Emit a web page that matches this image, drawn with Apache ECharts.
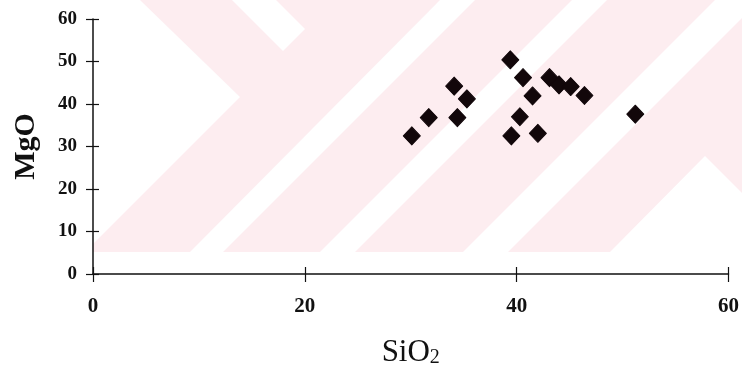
<!DOCTYPE html>
<html>
<head>
<meta charset="utf-8">
<script src="https://cdn.jsdelivr.net/npm/echarts@6/dist/echarts.min.js"></script>
<style>
  html, body { margin: 0; padding: 0; background: #ffffff; }
  #chart { width: 742px; height: 374px; }
</style>
</head>
<body>
<div id="chart"></div>
<script>
// Sample compositions (wt %)
const sio2 = [30.1, 31.7, 34.1, 34.4, 35.3, 39.4, 39.5, 40.3, 40.6, 41.5, 42.0, 43.1, 44.0, 45.1, 46.4, 51.2];
const mgo  = [32.5, 36.8, 44.2, 36.8, 41.2, 50.4, 32.5, 37.0, 46.2, 41.9, 33.1, 46.2, 44.5, 44.1, 42.0, 37.6];

const xTicks = [0, 20, 40, 60];
const yTicks = [0, 10, 20, 30, 40, 50, 60];

const points = sio2.map((v, i) => [v, mgo[i]]);

const serif = '"Liberation Serif", "Times New Roman", serif';
const ink = '#111111';
const pink = '#fdedf0';

// Background stamp: pink field crossed by white diagonal bands
const stamp = [
  { type: 'rect', shape: { x: 93, y: 0, width: 649, height: 252 }, style: { fill: pink } },
  { type: 'polygon', shape: { points: [[93, 0], [140, 0], [240, 97], [93, 244]] }, style: { fill: '#fff' } },
  { type: 'polygon', shape: { points: [[232, 0], [276, 0], [305, 29], [283, 51]] }, style: { fill: '#fff' } },
  { type: 'polygon', shape: { points: [[190, 252], [223, 252], [475, 0], [440, 0]] }, style: { fill: '#fff' } },
  { type: 'polygon', shape: { points: [[320, 252], [355, 252], [607, 0], [572, 0]] }, style: { fill: '#fff' } },
  { type: 'polygon', shape: { points: [[463, 252], [508, 252], [760, 0], [715, 0]] }, style: { fill: '#fff' } },
  { type: 'polygon', shape: { points: [[610, 252], [705, 156], [801, 252]] }, style: { fill: '#fff' } }
].map(e => Object.assign(e, { z: -10, silent: true }));

const chart = echarts.init(document.getElementById('chart'), null, { renderer: 'canvas' });

const axisBase = {
  type: 'value',
  min: 0,
  max: 60,
  splitLine: { show: false },
  axisLine: { show: true, onZero: false, lineStyle: { color: ink, width: 1.5 } }
};

chart.setOption({
  backgroundColor: '#ffffff',
  animation: false,
  graphic: { elements: stamp },
  grid: { left: 93, right: 13, top: 19, bottom: 100, containLabel: false },
  xAxis: [
    Object.assign({}, axisBase, {
      position: 'bottom',
      interval: 20,
      name: '{a|SiO}{b|2}',
      nameLocation: 'middle',
      nameGap: 63,
      nameTextStyle: {
        rich: {
          a: { fontFamily: serif, fontSize: 31, color: ink },
          b: { fontFamily: serif, fontSize: 20, color: ink, verticalAlign: 'bottom', padding: [9, 0, 0, 0] }
        }
      },
      axisTick: { show: true, inside: false, length: 8, lineStyle: { color: ink, width: 1.2 } },
      axisLabel: {
        margin: 22,
        fontFamily: serif, fontWeight: 'bold', fontSize: 21, color: ink,
        formatter: v => (xTicks.includes(v) ? String(v) : '')
      }
    }),
    Object.assign({}, axisBase, {
      position: 'bottom',
      interval: 20,
      axisLine: { show: false },
      axisTick: { show: true, inside: true, length: 7, lineStyle: { color: ink, width: 1.2 } },
      axisLabel: { show: false }
    })
  ],
  yAxis: [
    Object.assign({}, axisBase, {
      position: 'left',
      interval: 10,
      name: 'MgO',
      nameLocation: 'middle',
      nameGap: 52,
      nameRotate: 90,
      nameTextStyle: { fontFamily: serif, fontWeight: 'bold', fontSize: 30, color: ink },
      axisTick: { show: true, inside: false, length: 7, lineStyle: { color: ink, width: 1.2 } },
      axisLabel: {
        margin: 16,
        fontFamily: serif, fontWeight: 'bold', fontSize: 19, color: ink,
        formatter: v => (yTicks.includes(v) ? String(v) : '')
      }
    }),
    Object.assign({}, axisBase, {
      position: 'left',
      interval: 10,
      axisLine: { show: false },
      axisTick: { show: true, inside: true, length: 6, lineStyle: { color: ink, width: 1.2 } },
      axisLabel: { show: false }
    })
  ],
  series: [{
    type: 'scatter',
    xAxisIndex: 0,
    yAxisIndex: 0,
    data: points,
    symbol: 'diamond',
    symbolSize: [17, 18],
    itemStyle: { color: '#12070a', opacity: 1, borderColor: '#12070a', borderWidth: 1, borderJoin: 'round' },
    z: 5
  }]
});
</script>
</body>
</html>
